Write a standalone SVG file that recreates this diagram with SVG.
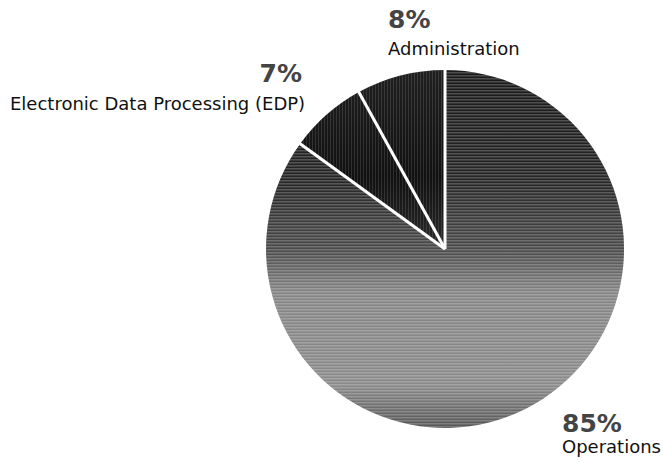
<svg xmlns="http://www.w3.org/2000/svg" width="663" height="463" viewBox="0 0 663 463">
  <style>
    .pct { font-family: "DejaVu Sans", "Liberation Sans", sans-serif; font-weight: bold; font-size: 25px; fill: #444444; }
    .lbl { font-family: "DejaVu Sans", "Liberation Sans", sans-serif; font-size: 18px; fill: #111; }
    .sep { stroke: #ffffff; stroke-width: 3; fill: none; }
  </style>
  <defs>
    <linearGradient id="opsGrad" x1="0" y1="70" x2="0" y2="428" gradientUnits="userSpaceOnUse">
      <stop offset="0" stop-color="#1a1a1a"/>
      <stop offset="0.3" stop-color="#252525"/>
      <stop offset="0.5" stop-color="#4a4a4a"/>
      <stop offset="0.62" stop-color="#858585"/>
      <stop offset="0.88" stop-color="#8a8a8a"/>
      <stop offset="1" stop-color="#555555"/>
    </linearGradient>
    <linearGradient id="darkGrad" x1="0" y1="70" x2="0" y2="249" gradientUnits="userSpaceOnUse">
      <stop offset="0" stop-color="#202020"/>
      <stop offset="0.6" stop-color="#111111"/>
      <stop offset="1" stop-color="#2a2a2a"/>
    </linearGradient>
    <pattern id="hlines" width="4" height="3" patternUnits="userSpaceOnUse">
      <rect width="4" height="1.5" fill="#ffffff" fill-opacity="0.22"/>
    </pattern>
    <pattern id="vlines" width="3" height="4" patternUnits="userSpaceOnUse">
      <rect width="1" height="4" fill="#ffffff" fill-opacity="0.12"/>
    </pattern>
  </defs>

  <rect width="663" height="463" fill="#ffffff"/>

  <g id="slice-operations">
    <path d="M445,249 L445,70 A179,179 0 1,1 300.2,143.8 Z" fill="url(#opsGrad)"/>
    <path d="M445,249 L445,70 A179,179 0 1,1 300.2,143.8 Z" fill="url(#hlines)"/>
  </g>
  <g id="slice-edp">
    <path d="M445,249 L300.2,143.8 A179,179 0 0,1 358.8,92.1 Z" fill="url(#darkGrad)"/>
    <path d="M445,249 L300.2,143.8 A179,179 0 0,1 358.8,92.1 Z" fill="url(#vlines)"/>
  </g>
  <g id="slice-administration">
    <path d="M445,249 L358.8,92.1 A179,179 0 0,1 445,70 Z" fill="url(#darkGrad)"/>
    <path d="M445,249 L358.8,92.1 A179,179 0 0,1 445,70 Z" fill="url(#vlines)"/>
  </g>

  <g id="connectors">
    <line class="sep" x1="445" y1="249" x2="445" y2="69"/>
    <line class="sep" x1="445" y1="249" x2="358.5" y2="91.5"/>
    <line class="sep" x1="445" y1="249" x2="299.8" y2="143.5"/>
  </g>

  <g id="label-administration">
    <text class="pct" x="388" y="28">8%</text>
    <text class="lbl" x="388" y="55">Administration</text>
  </g>
  <g id="label-edp">
    <text class="pct" x="302" y="82" text-anchor="end">7%</text>
    <text class="lbl" x="10" y="110">Electronic Data Processing (EDP)</text>
  </g>
  <g id="label-operations">
    <text class="pct" x="562" y="432">85%</text>
    <text class="lbl" x="562" y="453">Operations</text>
  </g>
</svg>
